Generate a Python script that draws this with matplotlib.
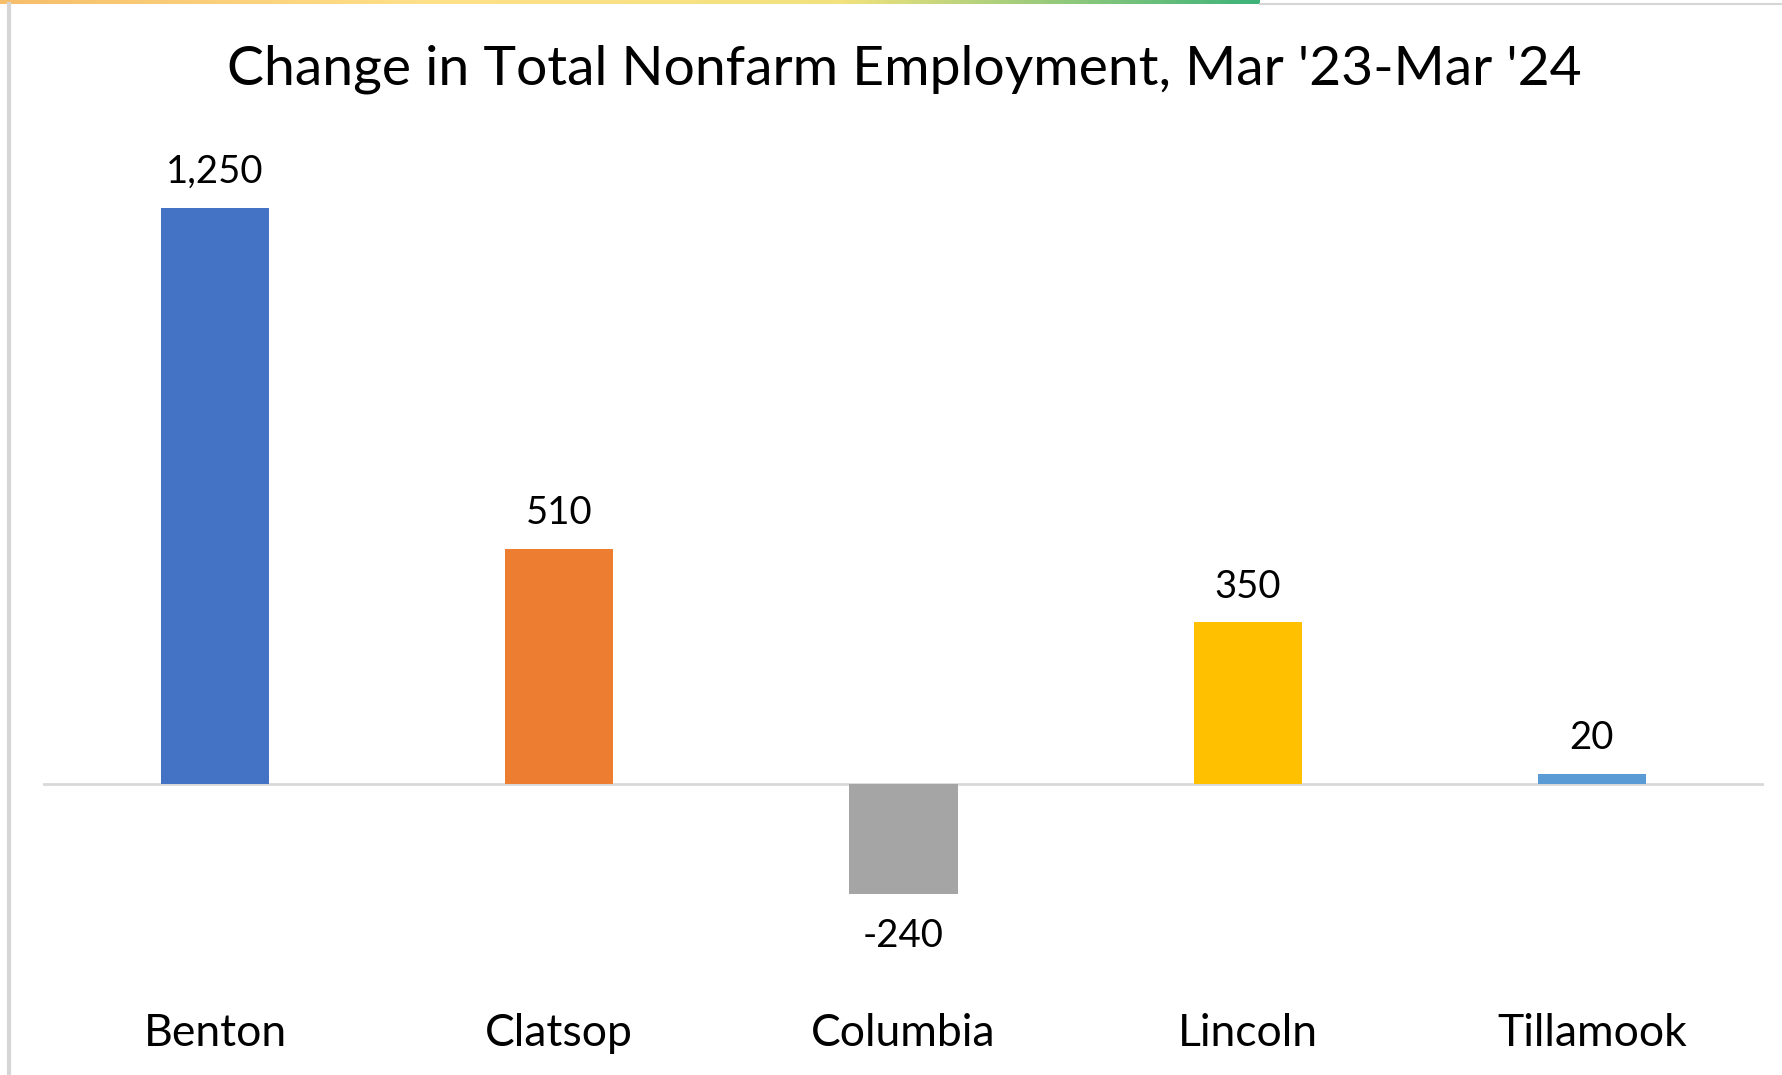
import matplotlib
matplotlib.use("Agg")
import matplotlib.pyplot as plt
import numpy as np
from matplotlib.transforms import blended_transform_factory
from matplotlib.colors import LinearSegmentedColormap

counties = ["Benton", "Clatsop", "Columbia", "Lincoln", "Tillamook"]
changes = [1250, 510, -240, 350, 20]
value_labels = ["1,250", "510", "-240", "350", "20"]
bar_colors = ["#4472C4", "#ED7D31", "#A5A5A5", "#FFC000", "#5B9BD5"]
title = "Change in Total Nonfarm Employment, Mar '23-Mar '24"

W, H = 1783, 1075
fig = plt.figure(figsize=(W / 100, H / 100), dpi=100)
fig.patch.set_facecolor("white")
FONT = "Lato"

# plot area
ax_left, ax_right = 43, 1764
ax_top, ax_bottom = 150, 960
ax = fig.add_axes([ax_left / W, 1 - ax_bottom / H, (ax_right - ax_left) / W, (ax_bottom - ax_top) / H])
zero_px = 783.5
px_per_unit = 0.4604
ax.set_ylim(-(ax_bottom - zero_px) / px_per_unit, (zero_px - ax_top) / px_per_unit)
ax.set_xlim(-0.5, len(counties) - 0.5)

x = np.arange(len(counties))
ax.bar(x, changes, width=0.314, color=bar_colors, zorder=2)
ax.axhline(0, color="#D9D9D9", lw=2, zorder=1)

for xi, v, lab in zip(x, changes, value_labels):
    off = 25.8 if v >= 0 else -30.6
    ax.annotate(lab, (xi, v), xytext=(0, off), textcoords="offset points",
                ha="center", va="center", fontsize=27.6, family=FONT, color="#000000")

tr = blended_transform_factory(ax.transData, fig.transFigure)
for xi, name in zip(x, counties):
    ax.text(xi, 1 - 1033.5 / H, name, transform=tr, ha="center", va="center",
            fontsize=32, family=FONT, color="#000000")

ax.axis("off")

fig.text(904 / W, 1 - 69.5 / H, title, ha="center", va="center", fontsize=39.8,
         family=FONT, color="#000000")

# screenshot frame decorations
grad_ax = fig.add_axes([0, 1 - 4 / H, 1260 / W, 4 / H])
cmap = LinearSegmentedColormap.from_list("g", ["#F6BE6A", "#FFE08A", "#F3E27E", "#3DB37A"])
grad_ax.imshow(np.linspace(0, 1, 256)[None, :], aspect="auto", cmap=cmap)
grad_ax.axis("off")
line_ax = fig.add_axes([0, 0, 1, 1], facecolor="none")
line_ax.set_xlim(0, W)
line_ax.set_ylim(H, 0)
line_ax.axis("off")
line_ax.plot([1260, W], [4, 4], color="#D6D6D6", lw=1.5)
line_ax.plot([9.5, 9.5], [4, H], color="#D6D6D6", lw=3)

fig.savefig("out.png", dpi=100, facecolor="white")
